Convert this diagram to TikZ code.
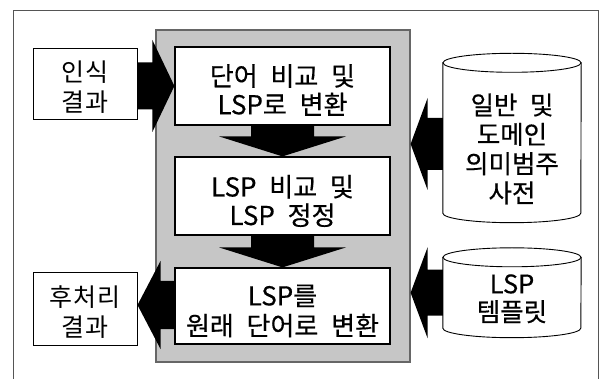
\documentclass[tikz,border=0pt]{standalone}
\usepackage{fontspec}
\setmainfont{Noto Sans CJK KR}[WordSpace=2.2]
\newfontfamily\boldishfont{Noto Sans CJK KR}[WordSpace=2.2, FakeBold=0.4]
\newfontfamily\sidefont{Noto Sans CJK KR}[LetterSpace=4]
\usetikzlibrary{calc}
\definecolor{panelgray}{HTML}{C6C6C6}
\definecolor{framegray}{HTML}{555555}
\newcommand\blockarrow[5]{% start, tip, shaft half, head half, head length
  \coordinate (ba-h) at ($(#2)!#5!(#1)$);
  \fill[black] ($(#1)!#3!90:(#2)$) -- ($(ba-h)!#3!-90:(#1)$) -- ($(ba-h)!#4!-90:(#1)$)
    -- (#2) -- ($(ba-h)!#4!90:(#1)$) -- ($(ba-h)!#3!90:(#1)$) -- ($(#1)!#3!-90:(#2)$) -- cycle;
}
\begin{document}
\begin{tikzpicture}[x=1pt,y=-1pt,
  procbox/.style={draw=black, line width=1.2pt, fill=white, minimum width=215pt, inner sep=0pt},
  proctext/.style={align=center, inner sep=0pt, font=\boldishfont\fontsize{26pt}{28.5pt}\selectfont},
  sidebox/.style={draw=black, line width=1pt, fill=white, minimum width=104pt, inner sep=0pt},
  sidetext/.style={align=center, inner sep=0pt, font=\sidefont\fontsize{25pt}{30pt}\selectfont},
  cylbody/.style={minimum width=138pt, inner sep=0pt},
  cyltext/.style={align=center, inner sep=0pt, font=\boldishfont\fontsize{25.5pt}{29.3pt}\selectfont},
  cylline/.style={draw=black, line width=0.9pt, fill=white}
]
\useasboundingbox (0,0) rectangle (605,379);
% outer frame
\coordinate (fbl) at (13,379);
\coordinate (ftl) at (13,10);
\coordinate (ftr) at (598,10);
\coordinate (fbr) at (598,379);
\draw[framegray, line width=0.9pt] (fbl) -- (ftl) -- (ftr) -- (fbr);
% panel
\node[draw=black!60, line width=1.2pt, fill=panelgray, minimum width=254pt, minimum height=332pt, inner sep=0pt]
  (panel) at (283,196) {};
% cylinders (drawn manually around named body nodes)
\node[cylbody, minimum height=150pt] (c1) at (512,138) {};
\node[cylbody, minimum height=70.5pt] (c2) at (512,292.75) {};
\foreach \c/\ry in {c1/9.5pt, c2/9.5pt}{
  \filldraw[cylline] (\c.north west) -- (\c.south west) arc[start angle=180, end angle=360, x radius=69pt, y radius=\ry]
    -- (\c.north east) -- cycle;
  \filldraw[cylline] (\c.north) ellipse[x radius=69pt, y radius=\ry];
}
\node[cyltext] (t-c1) at ([yshift=-11pt]c1.center) {일반 및\\도메인\\의미범주\\사전};
\node[cyltext, font=\boldishfont\fontsize{25.5pt}{28pt}\selectfont] (t-c2) at ([yshift=-6pt]c2.center) {LSP\\템플릿};
% process boxes
\node[procbox, minimum height=78pt] (b1) at (282.5,86) {};
\node[procbox, minimum height=78pt] (b2) at (282.5,196) {};
\node[procbox, minimum height=76pt] (b3) at (282.5,306) {};
\node[proctext] (t-b1) at ([yshift=-4pt]b1.center) {단어 비교 및\\LSP로 변환};
\node[proctext] (t-b2) at ([yshift=-5pt]b2.center) {LSP 비교 및\\LSP 정정};
\node[proctext, font=\boldishfont\fontsize{26pt}{30pt}\selectfont] (t-b3) at ([yshift=-5pt]b3.center) {LSP를\\원래 단어로 변환};
% side boxes
\node[sidebox, minimum height=71pt] (l1) at (85,84.5) {};
\node[sidebox, minimum height=72pt] (l2) at (85,309) {};
\node[sidetext] (t-l1) at ([yshift=-2.5pt]l1.center) {인식\\결과};
\node[sidetext] (t-l2) at ([yshift=-3pt]l2.center) {후처리\\결과};
% block arrows
\coordinate (a1s) at (l1.east |- b1.west);
\blockarrow{a1s}{b1.west}{23.5pt}{46pt}{22pt}
\blockarrow{b1.south}{b2.north}{31.5pt}{63.5pt}{20pt}
\blockarrow{b2.south}{b3.north}{31.5pt}{63.5pt}{20pt}
\coordinate (a4s) at ([yshift=-6pt]c1.west);
\coordinate (a4t) at (panel.east |- a4s);
\blockarrow{a4s}{a4t}{26pt}{46pt}{17pt}
\coordinate (a5t) at (panel.east |- c2.west);
\blockarrow{c2.west}{a5t}{23pt}{45.5pt}{17pt}
\coordinate (a6s) at ([yshift=1pt]b3.west);
\coordinate (a6t) at (l2.east |- a6s);
\blockarrow{a6s}{a6t}{24pt}{44pt}{23pt}
\end{tikzpicture}
\end{document}
